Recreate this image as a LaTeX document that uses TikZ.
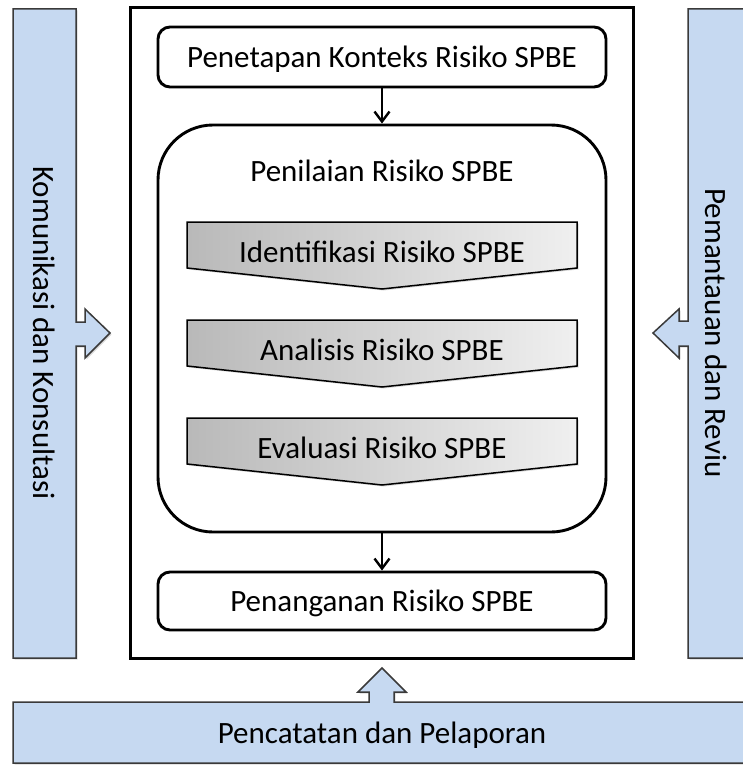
\documentclass[tikz,border=0pt]{standalone}
\usepackage{fontspec}
\setmainfont{Carlito}
\usetikzlibrary{arrows.meta,shadows}
\definecolor{barblue}{HTML}{C6D9F1}
\definecolor{barline}{HTML}{3A3A3A}
\begin{document}
\begin{tikzpicture}[x=1pt,y=-1pt,
  lbl/.style={font=\fontsize{31}{36}\selectfont, inner sep=0pt},
  box/.style={draw=black, line width=2.9pt, fill=white, inner sep=0pt},
  bluebar/.style={fill=barblue, draw=barline, line width=1.5pt,
    drop shadow={shadow xshift=1.5pt, shadow yshift=-1.5pt, opacity=0.3}},
  chev/.style={draw=black, line width=1.5pt, left color=gray!55, right color=gray!12,
    drop shadow={shadow xshift=1.5pt, shadow yshift=-1.5pt, opacity=0.3}},
  arr/.style={line width=2.4pt, -{Straight Barb[length=10pt,width=15pt]}}
]
\useasboundingbox (0,0) rectangle (743,765);
\clip (0,0) rectangle (743,765);
% side and bottom bars with block arrows
\draw[bluebar] (13,9) -- (76,9) -- (76,322) -- (85,322) -- (85,309) -- (110,333)
  -- (85,358) -- (85,346) -- (76,346) -- (76,658) -- (13,658) -- cycle;
\draw[bluebar] (760,9) -- (688,9) -- (688,321) -- (679,321) -- (679,309) -- (653,333)
  -- (679,358) -- (679,346) -- (688,346) -- (688,658) -- (760,658) -- cycle;
\draw[bluebar] (13,702) -- (369,702) -- (369,692) -- (358,692) -- (382,668) -- (406,692)
  -- (394,692) -- (394,702) -- (760,702) -- (760,763) -- (13,763) -- cycle;
\node[lbl, rotate=-90] (komu) at (44,333) {Komunikasi dan Konsultasi};
\node[lbl, rotate=-90] (pema) at (716,333) {Pemantauan dan Reviu};
\node[lbl, anchor=base] (penc) at (382,743) {Pencatatan dan Pelaporan};
% main frame
\node[draw=black, line width=3pt, inner sep=0pt, minimum width=503pt, minimum height=650pt] (main) at (381.5,333) {};
% boxes
\node[box, rounded corners=12pt, minimum width=448pt, minimum height=60pt] (ctx) at (382,57) {};
\node[lbl, anchor=base] (ctxl) at (382,68) {Penetapan Konteks Risiko SPBE};
\node[box, rounded corners=55pt, minimum width=448pt, minimum height=407pt] (pen) at (382,328.5) {};
\node[lbl, anchor=base] (penl) at (382,181) {Penilaian Risiko SPBE};
\node[box, rounded corners=12pt, minimum width=448pt, minimum height=58pt] (hand) at (382,601) {};
\node[lbl, anchor=base] (handl) at (382,611) {Penanganan Risiko SPBE};
% chevrons
\draw[chev] (187,222) -- (577,222) -- (577,268) -- (382,289) -- (187,268) -- cycle;
\node[lbl, anchor=base] (ident) at (382,262) {Identifikasi Risiko SPBE};
\draw[chev] (187,320) -- (577,320) -- (577,366) -- (382,387) -- (187,366) -- cycle;
\node[lbl, anchor=base] (anal) at (382,360) {Analisis Risiko SPBE};
\draw[chev] (187,418) -- (577,418) -- (577,464) -- (382,485) -- (187,464) -- cycle;
\node[lbl, anchor=base] (eval) at (382,458) {Evaluasi Risiko SPBE};
% connectors
\draw[arr] (ctx.south) -- (pen.north);
\draw[arr] (pen.south) -- (hand.north);
\end{tikzpicture}
\end{document}
